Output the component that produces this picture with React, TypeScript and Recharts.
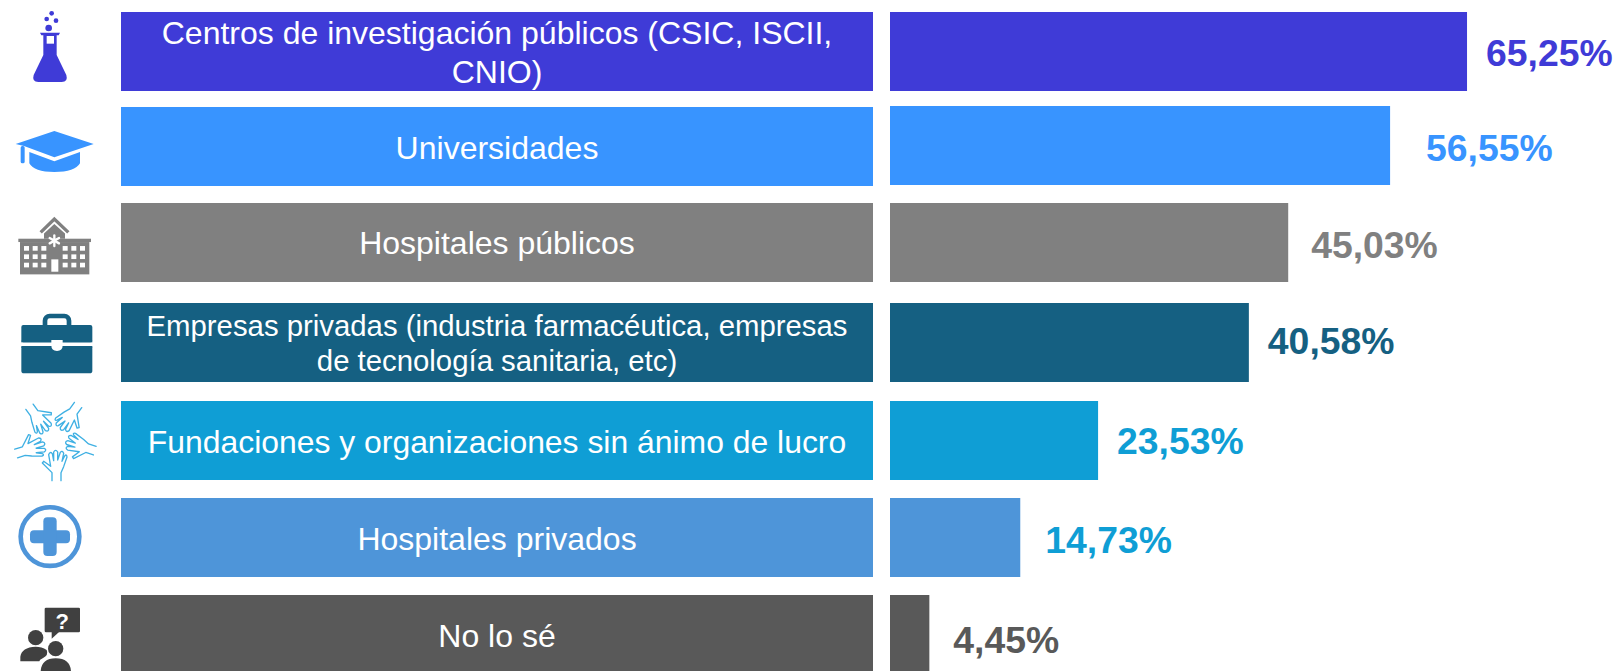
import React from "react";
import { BarChart, Bar, XAxis, YAxis, Cell, LabelList, Rectangle } from "recharts";

const categories = [
  "Centros de investigación públicos (CSIC, ISCII, CNIO)",
  "Universidades",
  "Hospitales públicos",
  "Empresas privadas (industria farmacéutica, empresas de tecnología sanitaria, etc)",
  "Fundaciones y organizaciones sin ánimo de lucro",
  "Hospitales privados",
  "No lo sé",
];
const shares = [65.25, 56.55, 45.03, 40.58, 23.53, 14.73, 4.45];
const panel = [100, 100, 100, 100, 100, 100, 100];
const labelLines = [
  ["Centros de investigación públicos (CSIC, ISCII,", "CNIO)"],
  ["Universidades"],
  ["Hospitales públicos"],
  ["Empresas privadas (industria farmacéutica, empresas", "de tecnología sanitaria, etc)"],
  ["Fundaciones y organizaciones sin ánimo de lucro"],
  ["Hospitales privados"],
  ["No lo sé"],
];
const barColors = ["#3F3BD7", "#3894FF", "#808080", "#156082", "#0F9ED5", "#4E95D9", "#595959"];
const valueColors = ["#3F3BD7", "#3894FF", "#808080", "#156082", "#0F9ED5", "#0F9ED5", "#595959"];

// layout tweaks, px per row
const leftNudge = [0, -2, -3, -0.5, 0.3, 0, 0];
const rightNudge = [0, -3, -3, -0.5, 0.3, 0, 0];
const labelFont = [32, 32, 32, 29.33, 31.9, 32, 32];
const lineGap = [39, 0, 0, 35, 0, 0, 0];
const labelDy = [12, 12, 11, 11, 12.5, 13, 13];
const valueGap = [19, 36, 23, 19, 19, 25, 24];
const valueDy = [15, 15, 15.5, 11.5, 13.5, 15.5, 18.5];
const iconAnchor = [154.5, 446, 737.4, 159, 450.6, 742.2, 1033.5];

const FONT = "'Liberation Sans', Arial, sans-serif";
const data = categories.map((category, i) => ({ category, share: shares[i], panel: panel[i] }));

const ROW_HEIGHT = 79;
const chartProps = { height: 690, data, layout: "vertical" as const, barSize: ROW_HEIGHT };
const MARGIN_TOP = 2.92;
const MARGIN_BOTTOM = 6.89;

function Hand() {
  return (
    <path
      d="M156 572 V548 L127 519 L131 514 L152 529 L146 494 Q150 483 157 491 L161 512 L161 486 Q167 476 173 486 L173 510 L181 487 Q187 480 191 490 L186 514 L194 498 Q200 491 201 501 L191 530 L183 548 V572"
      fill="none"
      stroke="#3FB0E3"
      strokeWidth={4}
      strokeLinejoin="round"
      strokeLinecap="round"
    />
  );
}

function Icon({ index }: { index: number }) {
  switch (index) {
    case 0:
      return (
        <g fill="#3F3BD7">
          <circle cx={155} cy={40} r={7} />
          <circle cx={140} cy={57} r={7} />
          <circle cx={168} cy={62} r={7} />
          <circle cx={146} cy={84} r={10} />
          <path d="M120 98 H180 L176 106 H170 V165 L199 225 Q205 246 185 246 H115 Q95 246 101 225 L130 165 V106 H124 Z" />
          <rect x={140} y={108} width={22} height={23} fill="#fff" />
        </g>
      );
    case 1:
      return (
        <g fill="#3894FF">
          <path d="M47 432 L163 393 L281 432 L163 472 L72 438 Z" />
          <rect x={62} y={438} width={12} height={52} rx={5} />
          <path d="M88 456 L163 484 L240 456 V490 Q225 516 163 516 Q102 516 88 490 Z" />
        </g>
      );
    case 2:
      return (
        <g>
          <g fill="#808080">
            <polygon points="132,716 132,700 163,672 195,700 195,716" />
            <rect x={55} y={716} width={218} height={10} />
            <rect x={60} y={726} width={208} height={97} />
          </g>
          <polyline points="122,697 163,657 205,697" fill="none" stroke="#808080" strokeWidth={10} />
          <g fill="#fff">
            {[738, 763, 788].map((wy) =>
              [72, 98, 124, 188, 214, 240].map((wx) => <rect key={`${wx}-${wy}`} x={wx} y={wy} width={15} height={14} />)
            )}
            <rect x={154} y={778} width={21} height={37} />
          </g>
          <g stroke="#fff" strokeWidth={7} strokeLinecap="round">
            <line x1={163} y1={706} x2={163} y2={738} />
            <line x1={149} y1={714} x2={177} y2={730} />
            <line x1={149} y1={730} x2={177} y2={714} />
          </g>
        </g>
      );
    case 3:
      return (
        <g>
          <rect x={135} y={78} width={72} height={44} rx={14} fill="none" stroke="#156082" strokeWidth={14} />
          <rect x={64} y={105} width={213} height={52} rx={6} fill="#156082" />
          <rect x={64} y={168} width={213} height={82} rx={8} fill="#156082" />
          <rect x={64} y={152} width={213} height={5} fill="#156082" />
          <rect x={64} y={168} width={213} height={6} fill="#156082" />
          <path d="M154 150 H188 V166 Q188 183 171 183 Q154 183 154 166 Z" fill="#fff" />
        </g>
      );
    case 4:
      return (
        <g>
          {[0, 72, 144, 216, 288].map((a) => (
            <g key={a} transform={`rotate(${a} 165 448)`}>
              <Hand />
            </g>
          ))}
        </g>
      );
    case 5:
      return (
        <g>
          <circle cx={150} cy={740} r={88} fill="none" stroke="#4E95D9" strokeWidth={14} />
          <rect x={90} y={721} width={120} height={39} rx={12} fill="#4E95D9" />
          <rect x={130} y={682} width={40} height={116} rx={12} fill="#4E95D9" />
        </g>
      );
    default:
      return (
        <g fill="#404040">
          <rect x={134} y={953} width={106} height={74} rx={4} />
          <polygon points="155,1025 155,1046 178,1025" />
          <text x={187} y={1016} textAnchor="middle" fontFamily={FONT} fontWeight={700} fontSize={66} fill="#fff">
            ?
          </text>
          <circle cx={107} cy={1043} r={23} />
          <path d="M61 1114 V1100 Q65 1072 107 1070 Q125 1070 140 1080 Q147 1095 128 1105 Q118 1110 118 1114 Z" />
          <circle cx={167} cy={1076} r={23} />
          <path d="M122 1143 Q125 1105 167 1105 Q210 1105 213 1143 Z" />
        </g>
      );
  }
}

function IconTick(props: any) {
  const { y, index } = props;
  return (
    <g transform={`translate(0 ${y}) scale(${1 / 3}) translate(0 ${-iconAnchor[index]})`}>
      <Icon index={index} />
    </g>
  );
}

function NudgedBar(nudge: number[]) {
  return (props: any) => {
    const { x, y, width, height, index, fill } = props;
    return <Rectangle x={x} y={Math.round(y + nudge[index])} width={width} height={height} fill={fill} />;
  };
}

function CategoryLabel(props: any) {
  const { x, y, width, height, index } = props;
  const lines = labelLines[index];
  const cx = x + width / 2;
  const cy = y + leftNudge[index] + height / 2;
  const first = cy - ((lines.length - 1) * lineGap[index]) / 2 + labelDy[index];
  return (
    <text textAnchor="middle" fontFamily={FONT} fontSize={labelFont[index]} fill="#fff">
      {lines.map((line, i) => (
        <tspan key={i} x={cx} y={first + i * lineGap[index]}>
          {line}
        </tspan>
      ))}
    </text>
  );
}

function ValueLabel(props: any) {
  const { x, y, width, height, index, value } = props;
  return (
    <text
      x={x + width + valueGap[index]}
      y={y + rightNudge[index] + height / 2 + valueDy[index]}
      fontFamily={FONT}
      fontWeight={700}
      fontSize={37.33}
      fill={valueColors[index]}
    >
      {`${Number(value).toFixed(2).replace(".", ",")}%`}
    </text>
  );
}

export default function App() {
  return (
    <div style={{ position: "absolute", left: 0, top: 0, width: 1624, height: 671, overflow: "hidden", background: "#fff" }}>
      <div style={{ position: "absolute", left: 0, top: 0 }}>
        <BarChart {...chartProps} width={873} margin={{ top: MARGIN_TOP, right: 0, bottom: MARGIN_BOTTOM, left: 0 }}>
          <XAxis type="number" domain={[0, 100]} hide />
          <YAxis
            type="category"
            dataKey="category"
            width={121}
            axisLine={false}
            tickLine={false}
            interval={0}
            tick={IconTick}
          />
          <Bar dataKey="panel" isAnimationActive={false} shape={NudgedBar(leftNudge)}>
            {barColors.map((c) => (
              <Cell key={c} fill={c} />
            ))}
            <LabelList dataKey="panel" content={CategoryLabel} />
          </Bar>
        </BarChart>
      </div>
      <div style={{ position: "absolute", left: 890, top: 0 }}>
        <BarChart {...chartProps} width={734} margin={{ top: MARGIN_TOP, right: 0, bottom: MARGIN_BOTTOM, left: 0 }}>
          <XAxis type="number" domain={[0, 83]} hide />
          <YAxis type="category" dataKey="category" hide />
          <Bar dataKey="share" isAnimationActive={false} shape={NudgedBar(rightNudge)}>
            {barColors.map((c) => (
              <Cell key={c} fill={c} />
            ))}
            <LabelList dataKey="share" content={ValueLabel} />
          </Bar>
        </BarChart>
      </div>
    </div>
  );
}
